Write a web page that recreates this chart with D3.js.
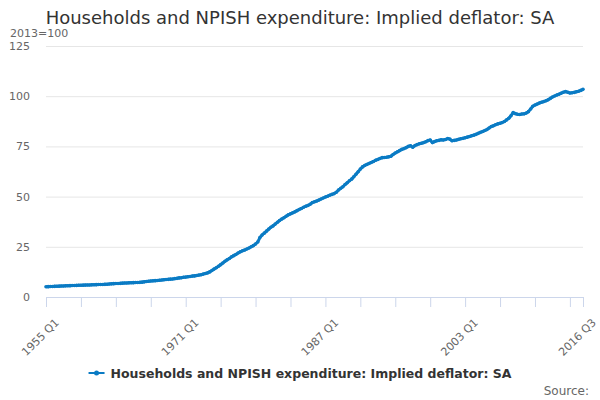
<!DOCTYPE html>
<html>
  <head>
    <meta charset="utf-8">
    <script src="https://d3js.org/d3.v7.min.js"></script>
    <title>Households and NPISH expenditure: Implied deflator: SA</title>
    <style>
      body { margin: 0; background: #fff; }
      text { font-family: "DejaVu Sans", sans-serif; }
    </style>
  </head>
  <body>
    <svg width="600" height="400"></svg>
    <script>
      const title = 'Households and NPISH expenditure: Implied deflator: SA';
      const unitLabel = '2013=100';
      const seriesName = 'Households and NPISH expenditure: Implied deflator: SA';
      const firstYear = 1955;
      const yTicks = [0, 25, 50, 75, 100, 125];
      const labelQuarters = ['1955 Q1', '1971 Q1', '1987 Q1', '2003 Q1', '2016 Q3'];

      // one row per year, Q1..Q4 (2016 ends at Q3)
      const deflator = [
        5.1, 5.15, 5.2, 5.25,
        5.3, 5.35, 5.4, 5.45,
        5.5, 5.55, 5.6, 5.65,
        5.7, 5.75, 5.78, 5.82,
        5.85, 5.9, 5.93, 5.97,
        6.0, 6.05, 6.1, 6.15,
        6.2, 6.22, 6.25, 6.3,
        6.35, 6.45, 6.55, 6.65,
        6.7, 6.75, 6.8, 6.9,
        6.95, 7.0, 7.05, 7.1,
        7.15, 7.2, 7.25, 7.3,
        7.4, 7.55, 7.7, 7.85,
        8.0, 8.05, 8.15, 8.25,
        8.35, 8.45, 8.6, 8.75,
        8.8, 8.9, 9.0, 9.15,
        9.3, 9.5, 9.6, 9.8,
        9.9, 10.1, 10.2, 10.4,
        10.5, 10.7, 10.9, 11.1,
        11.4, 11.7, 12.0, 12.5,
        13.2, 13.9, 14.6, 15.3,
        16.1, 16.9, 17.8, 18.5,
        19.2, 20.0, 20.6, 21.2,
        21.9, 22.5, 23.0, 23.4,
        23.9, 24.4, 25.0, 25.6,
        26.4, 27.4, 29.6, 30.9,
        31.8, 32.8, 33.8, 34.7,
        35.4, 36.3, 37.2, 38.1,
        38.8, 39.5, 40.2, 40.9,
        41.4, 41.9, 42.4, 43.0,
        43.6, 44.1, 44.7, 45.2,
        45.6, 46.2, 47.0, 47.4,
        47.8, 48.3, 48.8, 49.3,
        49.8, 50.2, 50.7, 51.1,
        51.5, 52.2, 53.3, 54.1,
        54.9, 56.0, 56.9, 57.9,
        58.7, 59.9, 61.1, 62.4,
        63.7, 64.8, 65.5, 66.0,
        66.5, 67.0, 67.5, 68.1,
        68.5, 69.0, 69.4, 69.5,
        69.6, 69.8, 70.1, 71.0,
        71.7, 72.3, 72.9, 73.5,
        73.9, 74.4, 75.0, 75.3,
        74.6, 75.4, 75.9, 76.3,
        76.6, 76.9, 77.3, 77.9,
        78.2, 76.9, 77.4, 77.8,
        78.0, 78.3, 78.2, 78.4,
        78.9, 78.6, 77.8, 78.0,
        78.2, 78.5, 78.8, 79.0,
        79.3, 79.6, 79.9, 80.3,
        80.6, 81.0, 81.5, 82.0,
        82.4, 82.9, 83.4, 84.2,
        84.9, 85.3, 85.8, 86.2,
        86.5, 86.9, 87.4, 88.2,
        89.0, 90.3, 91.8, 91.3,
        91.0, 90.9, 91.1, 91.2,
        91.6, 92.3, 93.6, 95.0,
        95.6, 96.1, 96.6, 97.0,
        97.3, 97.7, 98.2, 98.9,
        99.6, 100.1, 100.6, 101.0,
        101.5, 102.0, 102.3, 102.0,
        101.6, 101.7, 101.9, 102.2,
        102.5, 102.9, 103.4
      ];

      const quarters = deflator.map((v, i) =>
        `${firstYear + Math.floor(i / 4)} Q${i % 4 + 1}`);
      const data = deflator.map((v, i) => ({ q: quarters[i], v }));

      const colour = '#0a7bc4';
      const margin = { left: 46, right: 17, top: 46, bottom: 103 };
      const svg = d3.select('svg');
      const width = +svg.attr('width');
      const height = +svg.attr('height');
      const innerWidth = width - margin.left - margin.right;
      const innerHeight = height - margin.top - margin.bottom;

      const x = d3.scalePoint()
        .domain(quarters)
        .range([0, innerWidth]);
      const y = d3.scaleLinear()
        .domain([0, 125])
        .range([innerHeight, 0]);

      svg.append('text')
          .attr('x', width / 2)
          .attr('y', 24)
          .attr('text-anchor', 'middle')
          .attr('font-size', 18)
          .attr('fill', '#333')
          .text(title);

      svg.append('text')
          .attr('x', 10)
          .attr('y', 37)
          .attr('font-size', 11)
          .attr('fill', '#666')
          .text(unitLabel);

      const g = svg.append('g')
          .attr('transform', `translate(${margin.left},${margin.top})`);

      // grid + y labels
      const yAxis = g.append('g')
          .call(d3.axisLeft(y).tickValues(yTicks).tickSize(-innerWidth).tickPadding(16));
      yAxis.select('.domain').remove();
      yAxis.selectAll('.tick line').attr('stroke', '#e6e6e6');
      yAxis.selectAll('.tick text')
          .attr('fill', '#666')
          .attr('font-size', 11)
          .attr('font-family', '"DejaVu Sans", sans-serif');

      // x axis: ticks every 16 quarters plus the last one
      const tickQuarters = quarters.filter((q, i) => i % 16 === 0 || i === quarters.length - 1);
      const xAxis = g.append('g')
          .attr('transform', `translate(0,${innerHeight})`)
          .call(d3.axisBottom(x).tickValues(tickQuarters).tickSize(10).tickSizeOuter(0)
            .tickFormat(q => labelQuarters.includes(q) ? q : ''));
      xAxis.select('.domain').attr('stroke', '#ccd6eb');
      xAxis.selectAll('.tick line').attr('stroke', '#ccd6eb');
      xAxis.selectAll('.tick text')
          .filter(q => !labelQuarters.includes(q))
          .remove();
      xAxis.selectAll('.tick text')
          .attr('fill', '#666')
          .attr('font-size', 11)
          .attr('font-family', '"DejaVu Sans", sans-serif')
          .attr('text-anchor', 'end')
          .attr('dx', 0)
          .attr('dy', 0)
          .attr('transform', 'translate(4,17) rotate(-45)');

      const line = d3.line()
        .x(d => x(d.q))
        .y(d => y(d.v));

      g.append('path')
          .datum(data)
          .attr('fill', 'none')
          .attr('stroke', colour)
          .attr('stroke-width', 3)
          .attr('stroke-linejoin', 'round')
          .attr('d', line);

      g.selectAll('circle.pt').data(data)
        .enter().append('circle')
          .attr('class', 'pt')
          .attr('cx', d => x(d.q))
          .attr('cy', d => y(d.v))
          .attr('r', 1.8)
          .attr('fill', colour);

      // legend
      const legendG = svg.append('g');
      const legendText = legendG.append('text')
          .attr('x', 22)
          .attr('y', 378)
          .attr('font-size', 12.5)
          .attr('font-weight', 'bold')
          .attr('fill', '#333')
          .text(seriesName);
      legendG.append('line')
          .attr('x1', 0).attr('x2', 16)
          .attr('y1', 373).attr('y2', 373)
          .attr('stroke', colour)
          .attr('stroke-width', 2);
      legendG.append('circle')
          .attr('cx', 8).attr('cy', 373).attr('r', 2.5)
          .attr('fill', colour);
      const lw = 22 + legendText.node().getComputedTextLength();
      legendG.attr('transform', `translate(${(width - lw) / 2},0)`);

      svg.append('text')
          .attr('x', 589)
          .attr('y', 395)
          .attr('text-anchor', 'end')
          .attr('font-size', 12)
          .attr('fill', '#666')
          .text('Source:');
    </script>
  </body>
</html>
